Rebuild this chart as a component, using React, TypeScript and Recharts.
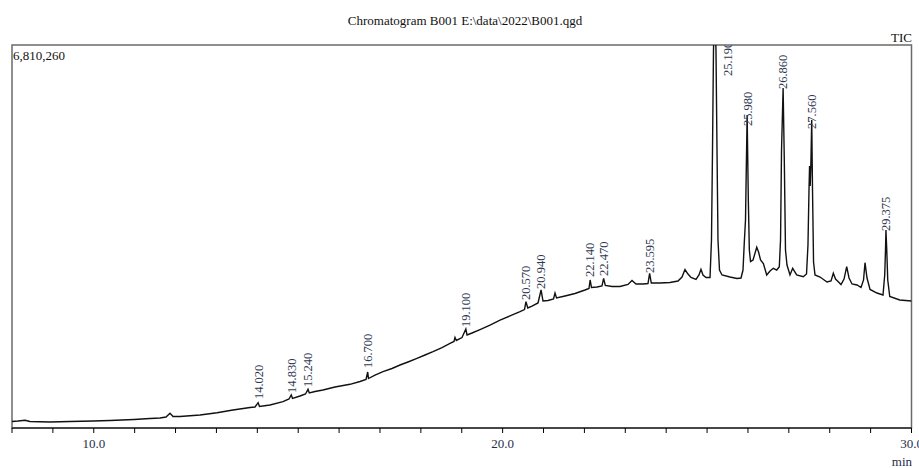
import React from "react";
import {
  ComposedChart,
  Line,
  Scatter,
  XAxis,
  YAxis,
  ReferenceArea,
} from "recharts";

const Y_MAX = 6810260;
const X_MIN = 8;
const X_MAX = 30;

const xTicks = [8, 9, 10, 11, 12, 13, 14, 15, 16, 17, 18, 19, 20, 21, 22, 23, 24, 25, 26, 27, 28, 29, 30];
const labeledTicks = [10, 20, 30];

const traceTimes = [
  8.0, 8.147, 8.318, 8.44, 8.929, 9.419, 9.981, 10.397, 10.984, 11.375,
  11.62, 11.767, 11.864, 11.938, 12.109, 12.598, 13.014, 13.405, 13.821, 13.943,
  14.02, 14.053, 14.31, 14.628, 14.775, 14.83, 14.861, 15.044, 15.178, 15.24,
  15.271, 15.411, 15.606, 15.9, 16.267, 16.511, 16.658, 16.7, 16.719, 16.878,
  17.074, 17.294, 17.49, 17.685, 17.905, 18.101, 18.297, 18.517, 18.713, 18.81,
  18.835, 18.867, 19.006, 19.1, 19.129, 19.251, 19.447, 19.691, 19.936, 20.18,
  20.425, 20.535, 20.57, 20.615, 20.718, 20.865, 20.94, 20.987, 21.109, 21.244,
  21.281, 21.318, 21.525, 21.77, 22.014, 22.112, 22.14, 22.173, 22.308, 22.43,
  22.47, 22.511, 22.675, 22.87, 23.066, 23.164, 23.262, 23.433, 23.555, 23.595,
  23.636, 23.849, 24.093, 24.289, 24.387, 24.46, 24.533, 24.607, 24.729, 24.802,
  24.851, 24.9, 24.974, 25.072, 25.108, 25.133, 25.157, 25.19, 25.218, 25.243,
  25.267, 25.304, 25.365, 25.561, 25.732, 25.83, 25.879, 25.911, 25.94, 25.98,
  26.009, 26.034, 26.063, 26.124, 26.215, 26.259, 26.308, 26.377, 26.459, 26.54,
  26.62, 26.704, 26.767, 26.797, 26.821, 26.86, 26.889, 26.918, 26.955, 27.028,
  27.094, 27.192, 27.353, 27.432, 27.468, 27.493, 27.507, 27.522, 27.537, 27.56,
  27.579, 27.604, 27.64, 27.763, 27.934, 28.032, 28.088, 28.142, 28.203, 28.276,
  28.35, 28.415, 28.472, 28.545, 28.668, 28.765, 28.827, 28.863, 28.912, 28.986,
  29.156, 29.303, 29.345, 29.364, 29.375, 29.395, 29.419, 29.468, 29.713, 30.0,
];

const traceCounts = [
  116000, 124000, 137000, 116000, 107000, 116000, 124000, 133000, 151000, 169000,
  178000, 196000, 261000, 204000, 204000, 231000, 272000, 320000, 365000, 373000,
  450000, 382000, 409000, 468000, 516000, 587000, 525000, 569000, 605000, 688000,
  622000, 649000, 676000, 729000, 777000, 827000, 862000, 996000, 880000, 942000,
  1001000, 1058000, 1120000, 1174000, 1239000, 1298000, 1357000, 1431000, 1506000, 1538000,
  1609000, 1556000, 1609000, 1760000, 1654000, 1689000, 1751000, 1831000, 1920000, 1992000,
  2068000, 2107000, 2246000, 2134000, 2169000, 2223000, 2454000, 2258000, 2267000, 2294000,
  2400000, 2312000, 2347000, 2392000, 2454000, 2481000, 2632000, 2498000, 2507000, 2525000,
  2662000, 2534000, 2516000, 2516000, 2552000, 2623000, 2561000, 2561000, 2569000, 2751000,
  2578000, 2578000, 2587000, 2614000, 2685000, 2818000, 2738000, 2676000, 2641000, 2721000,
  2822000, 2721000, 2676000, 2676000, 3343000, 4943000, 6721000, 7600000, 6721000, 4943000,
  3343000, 2809000, 2721000, 2685000, 2658000, 2667000, 2809000, 3307000, 3699000, 5566000,
  4054000, 3165000, 2961000, 2987000, 3213000, 3130000, 2987000, 2925000, 2721000, 2792000,
  2840000, 2809000, 2868000, 3343000, 4943000, 6046000, 4765000, 3165000, 2898000, 2721000,
  2840000, 2721000, 2690000, 2738000, 3254000, 4232000, 4659000, 4303000, 4623000, 5477000,
  4232000, 2952000, 2721000, 2685000, 2596000, 2614000, 2751000, 2649000, 2605000, 2552000,
  2649000, 2868000, 2667000, 2561000, 2543000, 2498000, 2632000, 2939000, 2667000, 2463000,
  2400000, 2365000, 2721000, 3165000, 3521000, 3165000, 2632000, 2338000, 2276000, 2258000,
];

const peakTimes = [14.02, 14.83, 15.24, 16.7, 19.1, 20.57, 20.94, 22.14, 22.47, 23.595, 25.19, 25.98, 26.86, 27.56, 29.375];
const peakLabels = ["14.020", "14.830", "15.240", "16.700", "19.100", "20.570", "20.940", "22.140", "22.470", "23.595", "25.190", "25.980", "26.860", "27.560", "29.375"];
const peakLabelLevels = [498000, 605000, 711000, 1049000, 1778000, 2258000, 2454000, 2667000, 2685000, 2738000, 6241000, 5352000, 6010000, 5299000, 3485000];

const traceData = traceTimes.map((t, i) => ({ t, v: traceCounts[i] }));

const apexOver = (t: number) =>
  traceData.some((d) => Math.abs(d.t - t) < 0.03 && d.v > Y_MAX);

const peakData = peakTimes.map((t, i) => ({
  t,
  level: peakLabelLevels[i],
  label: peakLabels[i],
  over: apexOver(t),
}));

const SERIF = "'Liberation Serif', 'Times New Roman', serif";

const PeakLabel = (props: any) => {
  const { cx, cy, payload } = props;
  if (cx == null || cy == null) return null;
  const x = cx + (payload.over ? 13 : 0);
  const y = cy - 1;
  return (
    <text
      x={x}
      y={y}
      dy="0.35em"
      transform={`rotate(-90 ${x} ${y})`}
      fontSize={12.5}
      fontFamily={SERIF}
      fill="#2e3850"
    >
      {payload.label}
    </text>
  );
};

export default function App() {
  return (
    <div style={{ position: "absolute", left: 0, top: 0, width: 919, height: 468 }}>
      <ComposedChart
        width={919}
        height={468}
        margin={{ top: 45, left: 12, right: 7.5, bottom: 10 }}
      >
        <XAxis
          type="number"
          dataKey="t"
          domain={[X_MIN, X_MAX]}
          ticks={xTicks}
          interval={0}
          allowDataOverflow
          tickFormatter={(v: number) => (labeledTicks.includes(v) ? v.toFixed(1) : "")}
          tickSize={5}
          tickMargin={6}
          height={30}
          axisLine={{ stroke: "#000", strokeWidth: 1 }}
          tickLine={{ stroke: "#000" }}
          tick={{ fontSize: 13, fontFamily: SERIF, fill: "#1f2d4d" }}
        />
        <YAxis hide type="number" domain={[0, Y_MAX]} allowDataOverflow />
        <ReferenceArea
          x1={X_MIN}
          x2={X_MAX}
          y1={0}
          y2={Y_MAX}
          fill="none"
          stroke="#6a6a6a"
          strokeWidth={1.5}
        />
        <Line
          data={traceData}
          dataKey="v"
          type="linear"
          stroke="#111"
          strokeWidth={1.4}
          dot={false}
          isAnimationActive={false}
        />
        <Scatter
          data={peakData}
          dataKey="level"
          shape={PeakLabel}
          isAnimationActive={false}
        />
      </ComposedChart>
      <svg
        width={919}
        height={468}
        style={{ position: "absolute", left: 0, top: 0, pointerEvents: "none" }}
      >
        <text x={465} y={20.5} textAnchor="middle" dominantBaseline="central" fontSize={13} fontFamily={SERIF} fill="#111">
          Chromatogram B001 E:\data\2022\B001.qgd
        </text>
        <text x={912} y={37} textAnchor="end" dominantBaseline="central" fontSize={13} fontFamily={SERIF} fill="#111">
          TIC
        </text>
        <text x={13} y={55} textAnchor="start" dominantBaseline="central" fontSize={13} fontFamily={SERIF} fill="#111">
          6,810,260
        </text>
        <text x={912} y={461} textAnchor="end" dominantBaseline="central" fontSize={13} fontFamily={SERIF} fill="#1f2d4d">
          min
        </text>
      </svg>
    </div>
  );
}
